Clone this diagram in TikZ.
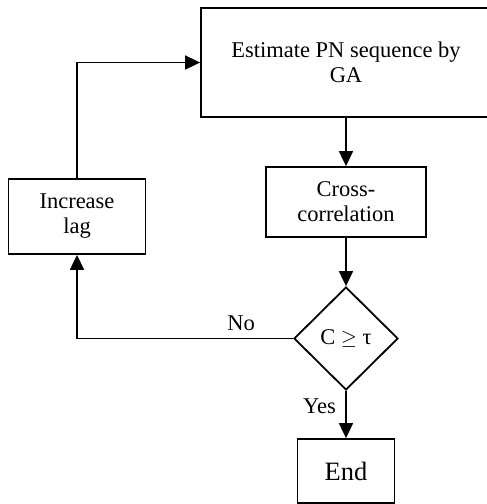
\documentclass[tikz,border=0pt]{standalone}
\usepackage{fontspec}
\setmainfont{Liberation Serif}
\usetikzlibrary{shapes.geometric,arrows.meta,positioning}

\begin{document}
\begin{tikzpicture}[x=1pt,y=-1pt]
\tikzstyle{every node}+=[font=\fontsize{22.5}{25}\selectfont]
\tikzstyle{block}=[draw, line width=1.8pt, rectangle, align=center, inner sep=0pt]
\tikzstyle{decision}=[draw, line width=1.8pt, diamond, inner sep=0pt]
\tikzstyle{line}=[draw, line width=1.8pt, -{Triangle[length=15pt,width=14pt]}]
\useasboundingbox (0,0) rectangle (487,504);
\clip (0,0) rectangle (487,504);
\node [block, minimum width=290, minimum height=109] (est) at (346,62.5) {Estimate PN sequence by\\GA};
\node [block, minimum width=160, minimum height=70] (xcorr) at (346,202) {Cross-\\correlation};
\node [block, minimum width=137, minimum height=75] (lag) at (77,216.5) {Increase\\lag};
\node [decision, minimum width=104, minimum height=103] (test) at (346,338.5) {C $\geq$ τ};
\node [block, minimum width=97, minimum height=64, font=\fontsize{26.5}{30}\selectfont] (end) at (346,471) {End};
\draw [line] (lag.north) |- (est.west);
\draw [line] (est.south) -- (xcorr.north);
\draw [line] (xcorr.south) -- (test.north);
\draw [line] (test.west) -| node [above=4pt, pos=0.12] {No} (lag.south);
\draw [line] (test.south) -- node [left=6pt, pos=0.33] {Yes} (end.north);
\end{tikzpicture}
\end{document}
